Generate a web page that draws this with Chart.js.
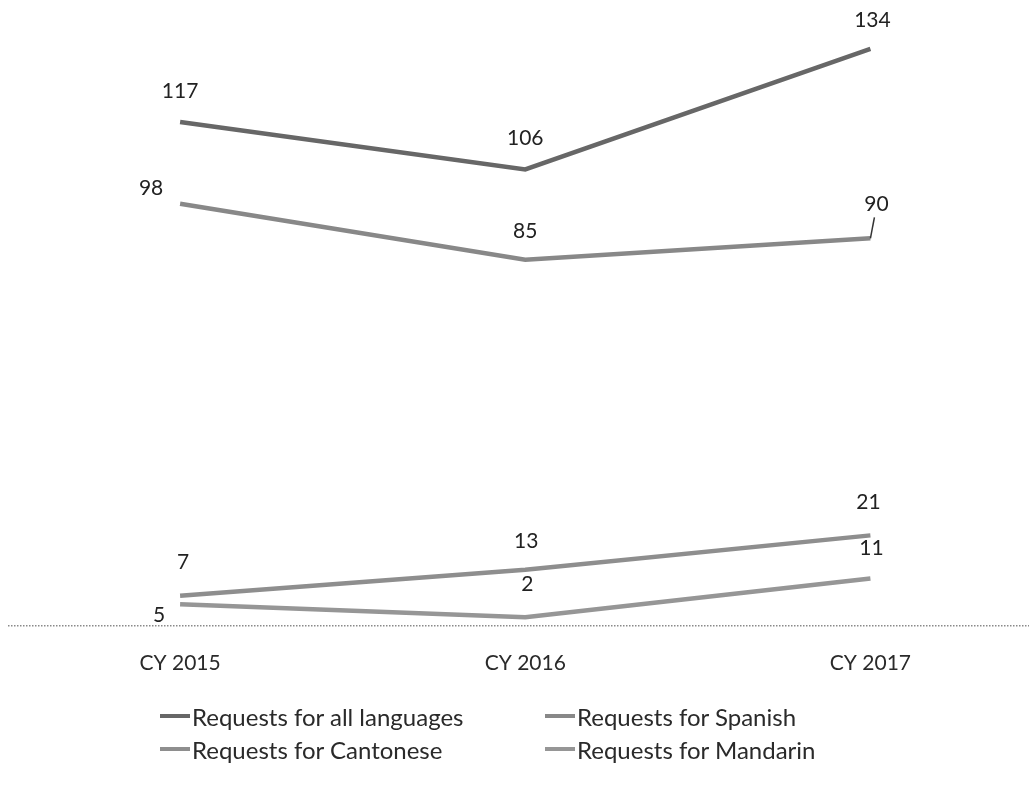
<!DOCTYPE html>
<html>
<head>
<meta charset="utf-8">
<script src="https://cdn.jsdelivr.net/npm/chart.js@4.4.1/dist/chart.umd.min.js"></script>
<style>
    html, body { margin: 0; padding: 0; background: #fff; overflow: hidden; }
    .chart-wrap { position: relative; width: 1043px; height: 725px; }
    .legend {
        position: absolute; left: 160px; top: 702px;
        display: grid; grid-template-columns: 385px 300px; row-gap: 5px;
        font-family: Lato, sans-serif; font-size: 24px; color: #2a2a2a;
    }
    .legend-item { display: flex; align-items: center; height: 28px; }
    .legend-swatch { width: 30px; height: 4px; margin-right: 2px; }
</style>
</head>
<body>
<div class="chart-wrap"><canvas id="myChart"></canvas></div>
<div class="legend" id="legend"></div>
<script>
// Данные графика
const years = ['CY 2015', 'CY 2016', 'CY 2017'];
const allLanguages = [117, 106, 134];
const spanish = [98, 85, 90];
const cantonese = [7, 13, 21];
const mandarin = [5, 2, 11];

// Смещения подписей значений относительно точек [dx, dy]
const labelOffsets = [
    [[0, -31], [0, -31], [2, -29]],
    [[-29, -16], [0, -29], [6, -34]],
    [[3, -33], [1, -29], [-2, -33]],
    [[-21, 11], [2, -33], [1, -30]]
];

// Подписи значений над точками
const valueLabels = {
    id: 'valueLabels',
    afterDatasetsDraw(chart) {
        const ctx = chart.ctx;
        ctx.save();
        ctx.font = '21px Lato, sans-serif';
        ctx.fillStyle = '#222';
        ctx.textAlign = 'center';
        ctx.textBaseline = 'middle';
        chart.data.datasets.forEach((ds, i) => {
            chart.getDatasetMeta(i).data.forEach((pt, j) => {
                const [dx, dy] = labelOffsets[i][j];
                ctx.fillText(ds.data[j], pt.x + dx, pt.y + dy);
                // выноска для подписи, сдвинутой вправо
                if (dx > 4) {
                    ctx.strokeStyle = '#333';
                    ctx.lineWidth = 1.5;
                    ctx.beginPath();
                    ctx.moveTo(pt.x, pt.y);
                    ctx.lineTo(pt.x + dx - 2, pt.y + dy + 13);
                    ctx.stroke();
                }
            });
        });
        ctx.restore();
    }
};

const ctx = document.getElementById('myChart').getContext('2d');
const myChart = new Chart(ctx, {
    type: 'line',
    data: {
        labels: years,
        datasets: [
            { label: 'Requests for all languages', data: allLanguages, borderColor: '#676767' },
            { label: 'Requests for Spanish', data: spanish, borderColor: '#888888' },
            { label: 'Requests for Cantonese', data: cantonese, borderColor: '#8e8e8e' },
            { label: 'Requests for Mandarin', data: mandarin, borderColor: '#969696' }
        ].map(ds => Object.assign(ds, {
            borderWidth: 4.5,
            pointRadius: 0,
            tension: 0,
            fill: false
        }))
    },
    options: {
        responsive: true,
        maintainAspectRatio: false,
        animation: false,
        layout: {
            padding: { left: 7.5, right: 0, top: 23, bottom: 24 }
        },
        plugins: {
            legend: { display: false },
            tooltip: { enabled: false }
        },
        scales: {
            x: {
                offset: true,
                grid: { display: false, drawTicks: false },
                border: { display: false },
                ticks: {
                    padding: 25,
                    color: '#2a2a2a',
                    font: { family: 'Lato, sans-serif', size: 21 }
                }
            },
            y: {
                min: 0,
                max: 140,
                // только нулевая линия, пунктиром
                grid: {
                    drawTicks: false,
                    lineWidth: 1.5,
                    color: c => (c.tick && c.tick.value === 0 ? '#8a8a8a' : 'rgba(0,0,0,0)')
                },
                border: { display: false, dash: [1.5, 1.5] },
                ticks: { display: false, stepSize: 20 }
            }
        }
    },
    plugins: [valueLabels]
});

// Легенда в две колонки
const legendDiv = document.getElementById('legend');
myChart.data.datasets.forEach(ds => {
    const item = document.createElement('div');
    item.className = 'legend-item';
    item.innerHTML = `<span class="legend-swatch" style="background:${ds.borderColor}"></span>${ds.label}`;
    legendDiv.appendChild(item);
});
</script>
</body>
</html>
